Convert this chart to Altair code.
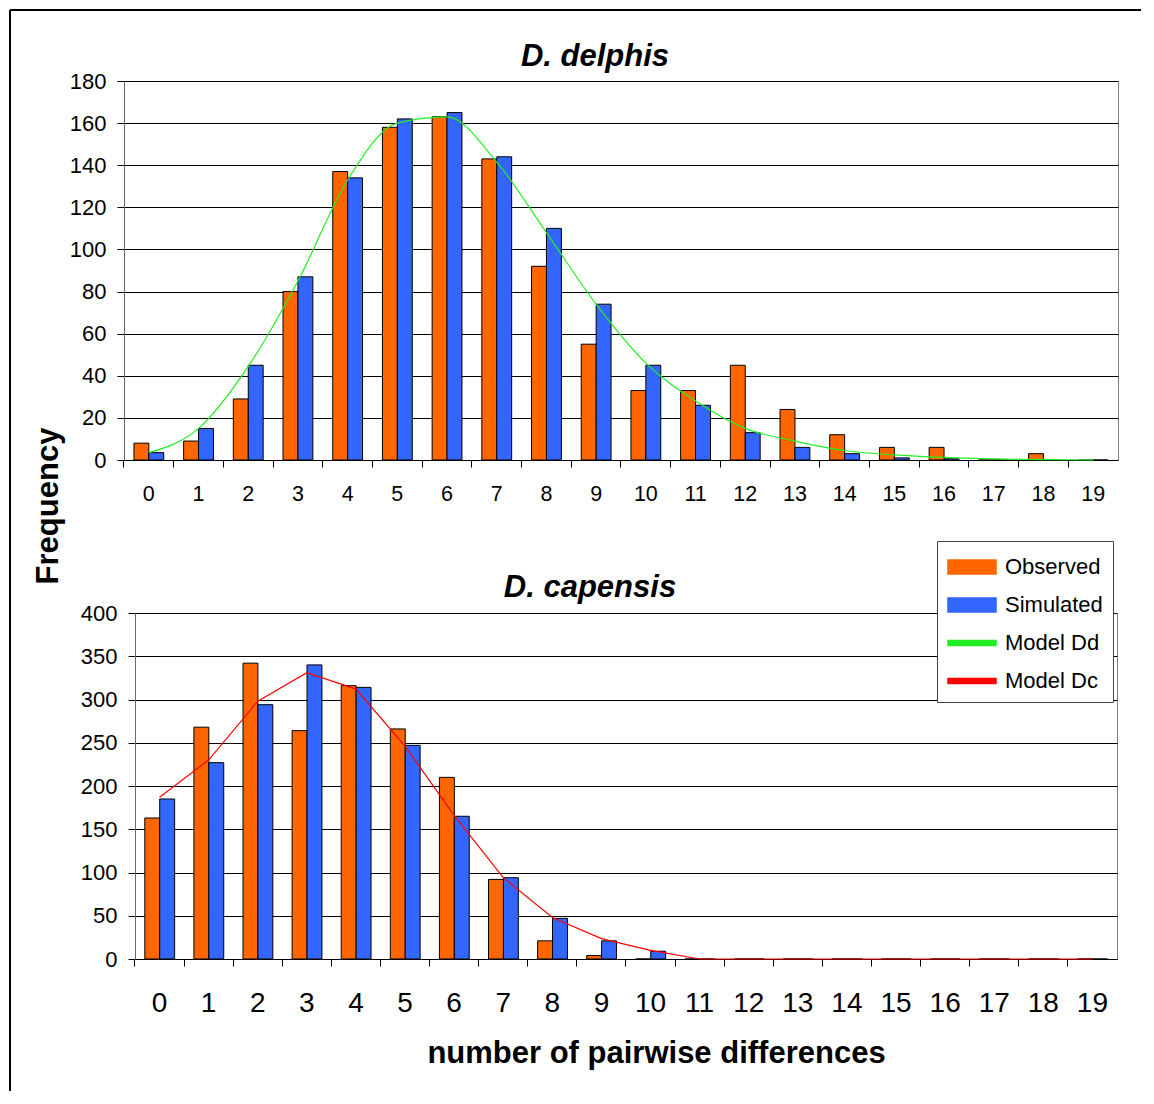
import altair as alt
import pandas as pd

# ---------------- data ----------------
categories = list(range(20))

dd_observed = [8, 9, 29, 80, 137, 158, 163, 143, 92, 55, 33, 33, 45, 24, 12, 6, 6, 0, 3, 0]
dd_simulated = [3.5, 15, 45, 87, 134, 162, 165, 144, 110, 74, 45, 26, 13, 6, 3, 1, 0.6, 0, 0, 0]
dd_model = [3.5, 15, 44.5, 85, 133, 160, 163, 141.5, 108, 74, 46, 28, 15, 9, 4.5, 2.4, 1.2, 0.5, 0.2, 0.1]

dc_observed = [163, 268, 342, 264, 316, 266, 210, 92, 21, 4, 0, 0, 0, 0, 0, 0, 0, 0, 0, 0]
dc_simulated = [185, 227, 294, 340, 314, 247, 165, 94, 47, 21, 9, 0, 0, 0, 0, 0, 0, 0, 0, 0]
dc_model = [187, 230, 298, 331, 312, 246, 166, 94, 48, 23.5, 10, 0, 0, 0, 0, 0, 0, 0, 0, 0]

series_names = ["Observed", "Simulated", "Model Dd", "Model Dc"]
series_colors = ["#ff6600", "#3366ff", "#22ee22", "#ff0000"]

top_ticks = list(range(0, 181, 20))
bottom_ticks = list(range(0, 401, 50))

title_top = "D. delphis"
title_bottom = "D. capensis"
y_title = "Frequency"
x_title = "number of pairwise differences"

FONT = "Liberation Sans"


def bars_df(obs, sim):
    rows = []
    for c, o, s in zip(categories, obs, sim):
        rows.append({"k": c, "series": "Observed", "v": o})
        rows.append({"k": c, "series": "Simulated", "v": s})
    return pd.DataFrame(rows)


def line_df(vals, name):
    return pd.DataFrame({"k": categories, "series": [name] * len(categories), "v": vals})


color_scale = alt.Scale(domain=series_names, range=series_colors)

RECT = "M-1,-0.467H2.2V0.467H-1Z"
LINE = "M-1,-0.17H2.2V0.17H-1Z"
is_bar = "(datum.value=='Observed'||datum.value=='Simulated')"

legend = alt.Legend(
    title=None,
    orient="none",
    legendX=813,
    legendY=460,
    direction="vertical",
    labelFont=FONT,
    labelFontSize=22,
    labelColor="black",
    symbolSize=900,
    symbolType={"expr": is_bar + " ? '" + RECT + "' : '" + LINE + "'"},
    symbolStrokeColor={"expr": is_bar + " ? 'black' : 'transparent'"},
    symbolStrokeWidth=1.5,
    symbolOpacity=1,
    labelOffset=26,
    rowPadding=11,
    padding=10,
    strokeColor="#444444",
    fillColor="white",
)


def panel(obs, sim, model, model_name, width, height, ymax, yticks,
          xlabel_size, xlabel_pad, xtitle=None, interpolate="linear"):
    xaxis_kw = dict(
        labelAngle=0, bandPosition=-1.0 / 3.0, labelFontSize=xlabel_size,
        labelPadding=xlabel_pad, labelFont=FONT, labelColor="black", tickSize=7,
        tickColor="black", domainColor="black", grid=False,
    )
    if xtitle is None:
        xaxis_kw["title"] = None
    else:
        xaxis_kw.update(
            title=xtitle, titleFont=FONT, titleFontSize=31, titleFontWeight="bold",
            titleColor="black", titleX=521, titleY=103, titleAlign="center",
            titleBaseline="alphabetic",
        )
    x = alt.X("k:O", scale=alt.Scale(paddingInner=0.4, paddingOuter=0.2), axis=alt.Axis(**xaxis_kw))
    y = alt.Y(
        "v:Q",
        scale=alt.Scale(domain=[0, ymax], nice=False),
        axis=alt.Axis(
            values=yticks, title=None, grid=True, gridColor="black", gridWidth=1,
            tickSize=7, tickColor="black", domainColor="#666666", labelFont=FONT,
            labelFontSize=22, labelColor="black", labelPadding=11,
        ),
    )
    bars = alt.Chart(bars_df(obs, sim)).mark_bar(stroke="black", strokeWidth=1).encode(
        x=x,
        xOffset=alt.XOffset("series:N", scale=alt.Scale(domain=["Observed", "Simulated"], paddingInner=0, paddingOuter=0)),
        y=y,
        color=alt.Color("series:N", scale=color_scale, legend=legend),
    )
    line = alt.Chart(line_df(model, model_name)).mark_line(strokeWidth=1.2, interpolate=interpolate).encode(
        x=alt.X("k:O"),
        y=alt.Y("v:Q"),
        color=alt.Color("series:N", scale=color_scale, legend=None),
    )
    return alt.layer(bars, line).properties(width=width, height=height)


top = panel(dd_observed, dd_simulated, dd_model, "Model Dd", 994, 379, 180, top_ticks,
            21.5, 16, interpolate="monotone")

bottom = panel(dc_observed, dc_simulated, dc_model, "Model Dc", 982, 346, 400, bottom_ticks,
               28, 23, xtitle=x_title)

# Decorations (frame lines, panel titles, shared y title) live in a flush spacer
# placed at the left of the bottom row; its origin is at the bottom-left plot corner.
one = pd.DataFrame({"a": [0]})
spacer_base = alt.Chart(one).mark_point(opacity=0).encode(x=alt.value(0), y=alt.value(0))
freq_text = alt.Chart(pd.DataFrame({"t": [y_title]})).mark_text(
    font=FONT, fontSize=31, fontWeight="bold", angle=270, align="center",
    baseline="middle", color="black",
).encode(x=alt.value(-75), y=alt.value(-107), text="t:N")
t_top = alt.Chart(pd.DataFrame({"t": [title_top]})).mark_text(
    font=FONT, fontSize=31, fontWeight="bold", fontStyle="italic", align="center",
    baseline="alphabetic", color="black",
).encode(x=alt.value(471), y=alt.value(-547), text="t:N")
t_bottom = alt.Chart(pd.DataFrame({"t": [title_bottom]})).mark_text(
    font=FONT, fontSize=31, fontWeight="bold", fontStyle="italic", align="center",
    baseline="alphabetic", color="black",
).encode(x=alt.value(466), y=alt.value(-16), text="t:N")
border_top = alt.Chart(one).mark_rule(color="black", strokeWidth=2).encode(
    x=alt.value(-114), x2=alt.value(1017), y=alt.value(-603)
)
border_left = alt.Chart(one).mark_rule(color="black", strokeWidth=2).encode(
    x=alt.value(-114), y=alt.value(-603), y2=alt.value(478)
)
spacer = alt.layer(spacer_base, freq_text, t_top, t_bottom, border_top, border_left).properties(
    width=1, height=346, view=alt.ViewBackground(stroke="transparent")
)

chart = alt.vconcat(
    top,
    alt.hconcat(spacer, bottom, spacing=10, bounds="flush"),
    spacing=153,
    bounds="flush",
).properties(padding=0).configure_view(stroke="#808080", strokeWidth=1)

chart.save("out.html", embed_options={"renderer": "svg", "actions": False})
